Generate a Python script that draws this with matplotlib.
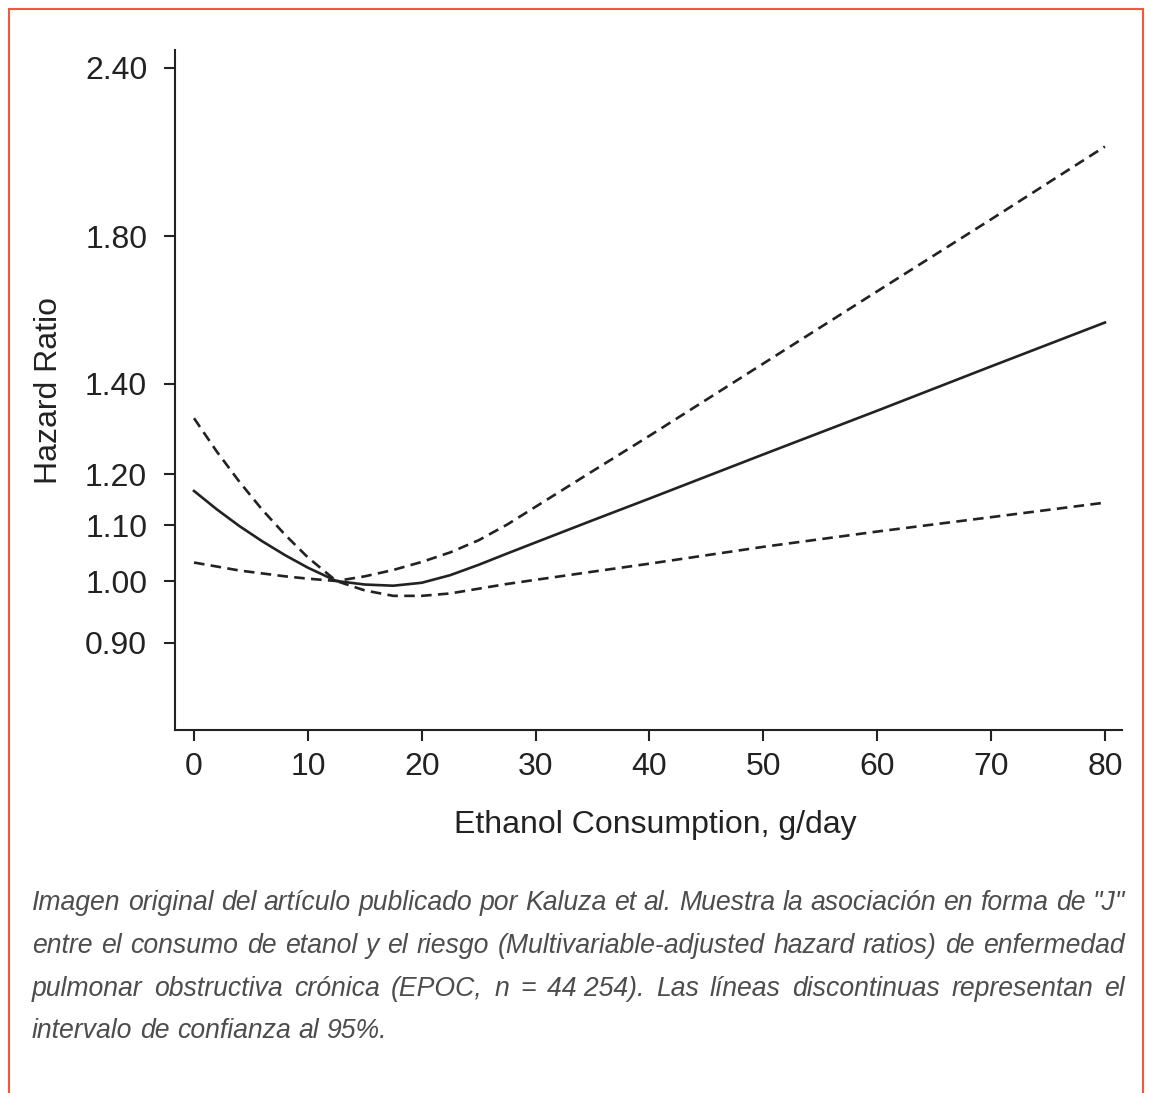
import matplotlib
matplotlib.use("Agg")
import matplotlib.pyplot as plt
from matplotlib.patches import Rectangle
from matplotlib.ticker import FixedLocator, NullLocator, FormatStrFormatter

# Data (HR on log scale, reference at 12.5 g/day)
ethanol = [0, 2, 4, 6, 8, 10, 12.5, 15, 17.5, 20, 22.5, 25, 27.5, 30, 35, 40, 50, 60, 70, 80]
hr = [1.166, 1.130, 1.098, 1.070, 1.045, 1.023, 1.000, 0.994, 0.992, 0.997,
      1.010, 1.028, 1.048, 1.068, 1.109, 1.151, 1.241, 1.337, 1.442, 1.554]
# the two CI curves cross at the reference point
ci_a = [1.320, 1.247, 1.184, 1.129, 1.082, 1.041, 1.000, 0.984, 0.975, 0.975,
        0.979, 0.987, 0.995, 1.002, 1.016, 1.030, 1.060, 1.088, 1.115, 1.143]
ci_b = [1.032, 1.025, 1.018, 1.013, 1.008, 1.004, 1.000, 1.008, 1.019, 1.033,
        1.050, 1.072, 1.101, 1.135, 1.206, 1.281, 1.449, 1.639, 1.853, 2.098]

y_ticks = [0.90, 1.00, 1.10, 1.20, 1.40, 1.80, 2.40]
x_ticks = [0, 10, 20, 30, 40, 50, 60, 70, 80]

caption_lines = [
    'Imagen original del artículo publicado por Kaluza et al. Muestra la asociación en forma de "J"',
    'entre el consumo de etanol y el riesgo (Multivariable-adjusted hazard ratios) de enfermedad',
    'pulmonar obstructiva crónica (EPOC, n = 44\u00a0254). Las líneas discontinuas representan el',
    'intervalo de confianza al 95%.',
]

W, H = 1151, 1093
plt.rcParams['font.family'] = ['Liberation Sans', 'DejaVu Sans']
ink = '#222222'
dash = (0, (4.0, 2.4))

fig = plt.figure(figsize=(W / 100, H / 100), dpi=100)
ax = fig.add_axes([175 / W, (H - 730) / H, (1122 - 175) / W, (730 - 50) / H])

ax.plot(ethanol, hr, color=ink, lw=1.9)
ax.plot(ethanol, ci_a, color=ink, lw=1.9, ls=dash)
ax.plot(ethanol, ci_b, color=ink, lw=1.9, ls=dash)

ax.set_yscale('log')
ax.set_xlim(-1.67, 81.5)
ax.set_ylim(0.7756, 2.4735)
ax.yaxis.set_major_locator(FixedLocator(y_ticks))
ax.yaxis.set_major_formatter(FormatStrFormatter('%.2f'))
ax.yaxis.set_minor_locator(NullLocator())
ax.xaxis.set_major_locator(FixedLocator(x_ticks))

for side in ['top', 'right']:
    ax.spines[side].set_visible(False)
for side in ['left', 'bottom']:
    ax.spines[side].set_linewidth(1.5)
    ax.spines[side].set_color(ink)
ax.tick_params(axis='both', length=8, width=1.5, color=ink,
               labelsize=23, labelcolor=ink)
ax.tick_params(axis='y', pad=12)
ax.tick_params(axis='x', pad=8)

ax.set_xlabel('Ethanol Consumption, g/day', fontsize=23, color=ink)
ax.set_ylabel('Hazard Ratio', fontsize=23, color=ink)
ax.xaxis.set_label_coords(0.507, -0.118)
ax.yaxis.set_label_coords(-0.117, 0.5)

# caption, justified like the web page
renderer = fig.canvas.get_renderer()
left_px, right_px = 32, 1125
line_y = [903, 946, 989, 1031]
for i, line in enumerate(caption_lines):
    words = line.split(' ')
    objs = [fig.text(0, 1 - line_y[i] / H, w, fontsize=19.2, style='italic',
                     color='#4d4d4d', va='center', ha='left') for w in words]
    widths = [o.get_window_extent(renderer).width for o in objs]
    if i < len(caption_lines) - 1:
        gap = (right_px - left_px - sum(widths)) / (len(words) - 1)
    else:
        gap = 7.5
    x = left_px
    for o, wd in zip(objs, widths):
        o.set_x(x / W)
        x += wd + gap

# page frame
fig.patches.append(Rectangle((9 / W, -0.05), (1143 - 9) / W, 1 - 9 / H + 0.05,
                             transform=fig.transFigure, fill=False,
                             edgecolor='#ef5b3a', lw=1.5))

fig.savefig('out.png', dpi=100)
